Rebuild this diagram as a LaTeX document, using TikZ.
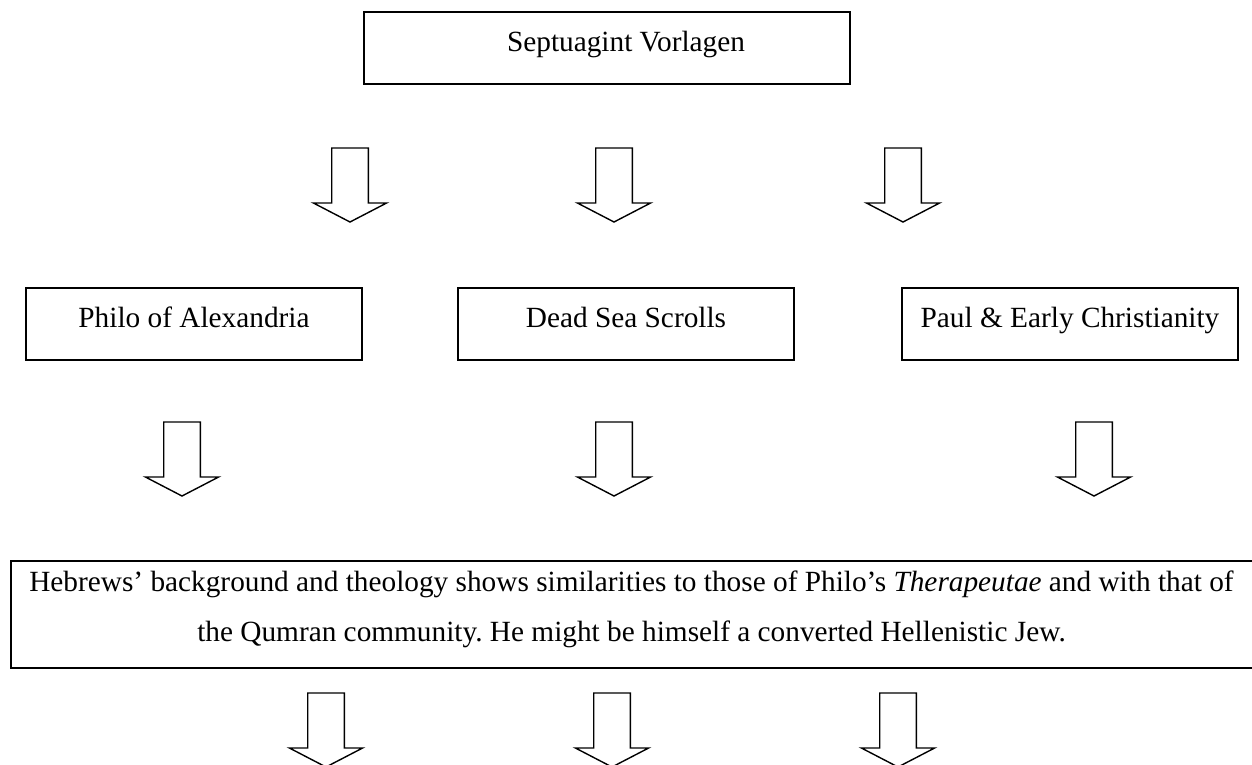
\documentclass[tikz,border=0pt]{standalone}
\usepackage{fontspec}
\setmainfont{Liberation Serif}
\frenchspacing
\begin{document}
\begin{tikzpicture}[x=1pt,y=-1pt,
  boxnode/.style={draw, line width=1.3pt, minimum width=336pt, minimum height=72pt,
    inner sep=0pt, text height=12pt, text depth=6pt, font=\fontsize{29.3}{34}\selectfont},
  bodytext/.style={anchor=base, inner sep=0pt, font=\fontsize{29.3}{34}\selectfont},
  blockarrow/.pic={\draw[line width=1.4pt, line join=miter]
    (-18.3,0) -- (18.3,0) -- (18.3,55) -- (36.6,55) -- (0,74) -- (-36.6,55) -- (-18.3,55) -- cycle;}
]
\useasboundingbox[fill=white] (0,0) rectangle (1252,764);

% top box
\node[boxnode, minimum width=486pt] (sept) at (607,48) {\hspace*{38pt}Septuagint Vorlagen};

% first row of arrows
\pic (a1) at (350,148) {blockarrow};
\pic (a2) at (614,148) {blockarrow};
\pic (a3) at (903,148) {blockarrow};

% second row of boxes
\node[boxnode] (philo) at (194,324) {Philo of Alexandria};
\node[boxnode] (dss) at (626,324) {Dead Sea Scrolls};
\node[boxnode] (paul) at (1070,324) {Paul \& Early Christianity};

% second row of arrows
\pic (b1) at (182,422) {blockarrow};
\pic (b2) at (614,422) {blockarrow};
\pic (b3) at (1094,422) {blockarrow};

% wide box (open on the right)
\draw[line width=1.6pt] (1262,561) -- (11,561) -- (11,668) -- (1262,668);
\node[bodytext] (hebA) at (631.5,591) {Hebrews’ background and theology shows similarities to those of Philo’s \textit{Therapeutae} and with that of};
\node[bodytext] (hebB) at (631.5,641) {the Qumran community. He might be himself a converted Hellenistic Jew.};

% third row of arrows
\pic (c1) at (326,693) {blockarrow};
\pic (c2) at (612,693) {blockarrow};
\pic (c3) at (898,693) {blockarrow};
\end{tikzpicture}
\end{document}
